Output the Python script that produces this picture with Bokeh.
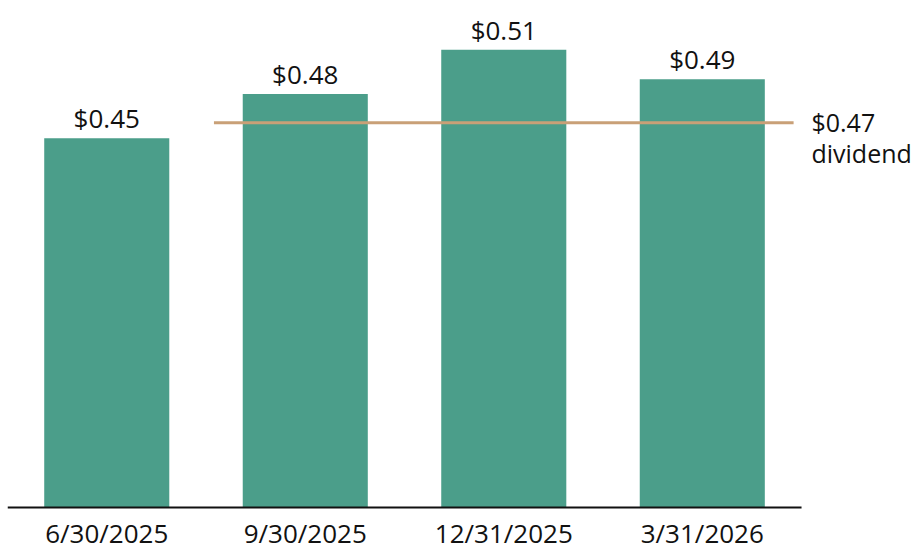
from bokeh.plotting import figure
from bokeh.models import ColumnDataSource, FixedTicker, Range1d
from bokeh.core.properties import value
from bokeh.embed import file_html
from bokeh.resources import INLINE

# ---- data ----
quarters = ["6/30/2025", "9/30/2025", "12/31/2025", "3/31/2026"]
eps = [0.45, 0.48, 0.51, 0.49]
eps_labels = ["$0.45", "$0.48", "$0.51", "$0.49"]
dividend_text = ["$0.47", "dividend"]
dividend_line_y = 0.4605     # level of the drawn dividend line
dividend_line_x = [0.54, 3.46]
y_base = 0.2
bar_span = [-0.5, 3.5]

FONT = "Open Sans"
BAR = "#4B9E8A"
LINE = "#C9A077"
TXT = "#111111"

xs = list(range(len(quarters)))
src = ColumnDataSource(dict(x=xs, top=eps, lab=eps_labels))

p = figure(width=913, height=552, output_backend="svg", toolbar_location=None,
           x_range=Range1d(-0.5, 4.064), y_range=Range1d(0.1695, 0.5433),
           y_axis_location=None, min_border_left=7, min_border_top=0,
           min_border_bottom=0, min_border_right=0)
p.outline_line_color = None
p.grid.visible = False
p.background_fill_color = "white"
p.border_fill_color = "white"

p.vbar(x="x", top="top", bottom=y_base, width=0.63, source=src,
       fill_color=BAR, line_color=None)

# baseline
p.line(x=bar_span, y=[y_base, y_base], line_color="#111111", line_width=2)

p.text(x="x", y="top", text="lab", source=src, y_offset=-20,
       text_align="center", text_baseline="alphabetic",
       text_font=value(FONT), text_font_size="26px", text_color=TXT)

p.line(x=dividend_line_x, y=[dividend_line_y, dividend_line_y],
       line_color=LINE, line_width=3)

lab_x = bar_span[1] + 0.05
p.text(x=[lab_x], y=[dividend_line_y], text=[dividend_text[0]], y_offset=-1,
       text_align="left", text_baseline="alphabetic",
       text_font=value(FONT), text_font_size="25px", text_color=TXT)
p.text(x=[lab_x], y=[dividend_line_y], text=[dividend_text[1]], y_offset=30,
       text_align="left", text_baseline="alphabetic",
       text_font=value(FONT), text_font_size="25px", text_color=TXT)

ax = p.xaxis[0]
ax.fixed_location = y_base
ax.ticker = FixedTicker(ticks=xs)
ax.major_label_overrides = {i: q for i, q in zip(xs, quarters)}
ax.major_tick_out = 0
ax.major_tick_in = 0
ax.minor_tick_out = 0
ax.minor_tick_in = 0
ax.axis_line_color = None
ax.major_label_standoff = 8
ax.major_label_text_font = FONT
ax.major_label_text_font_size = "26px"
ax.major_label_text_color = TXT

open("out.html", "w").write(file_html(p, INLINE))
